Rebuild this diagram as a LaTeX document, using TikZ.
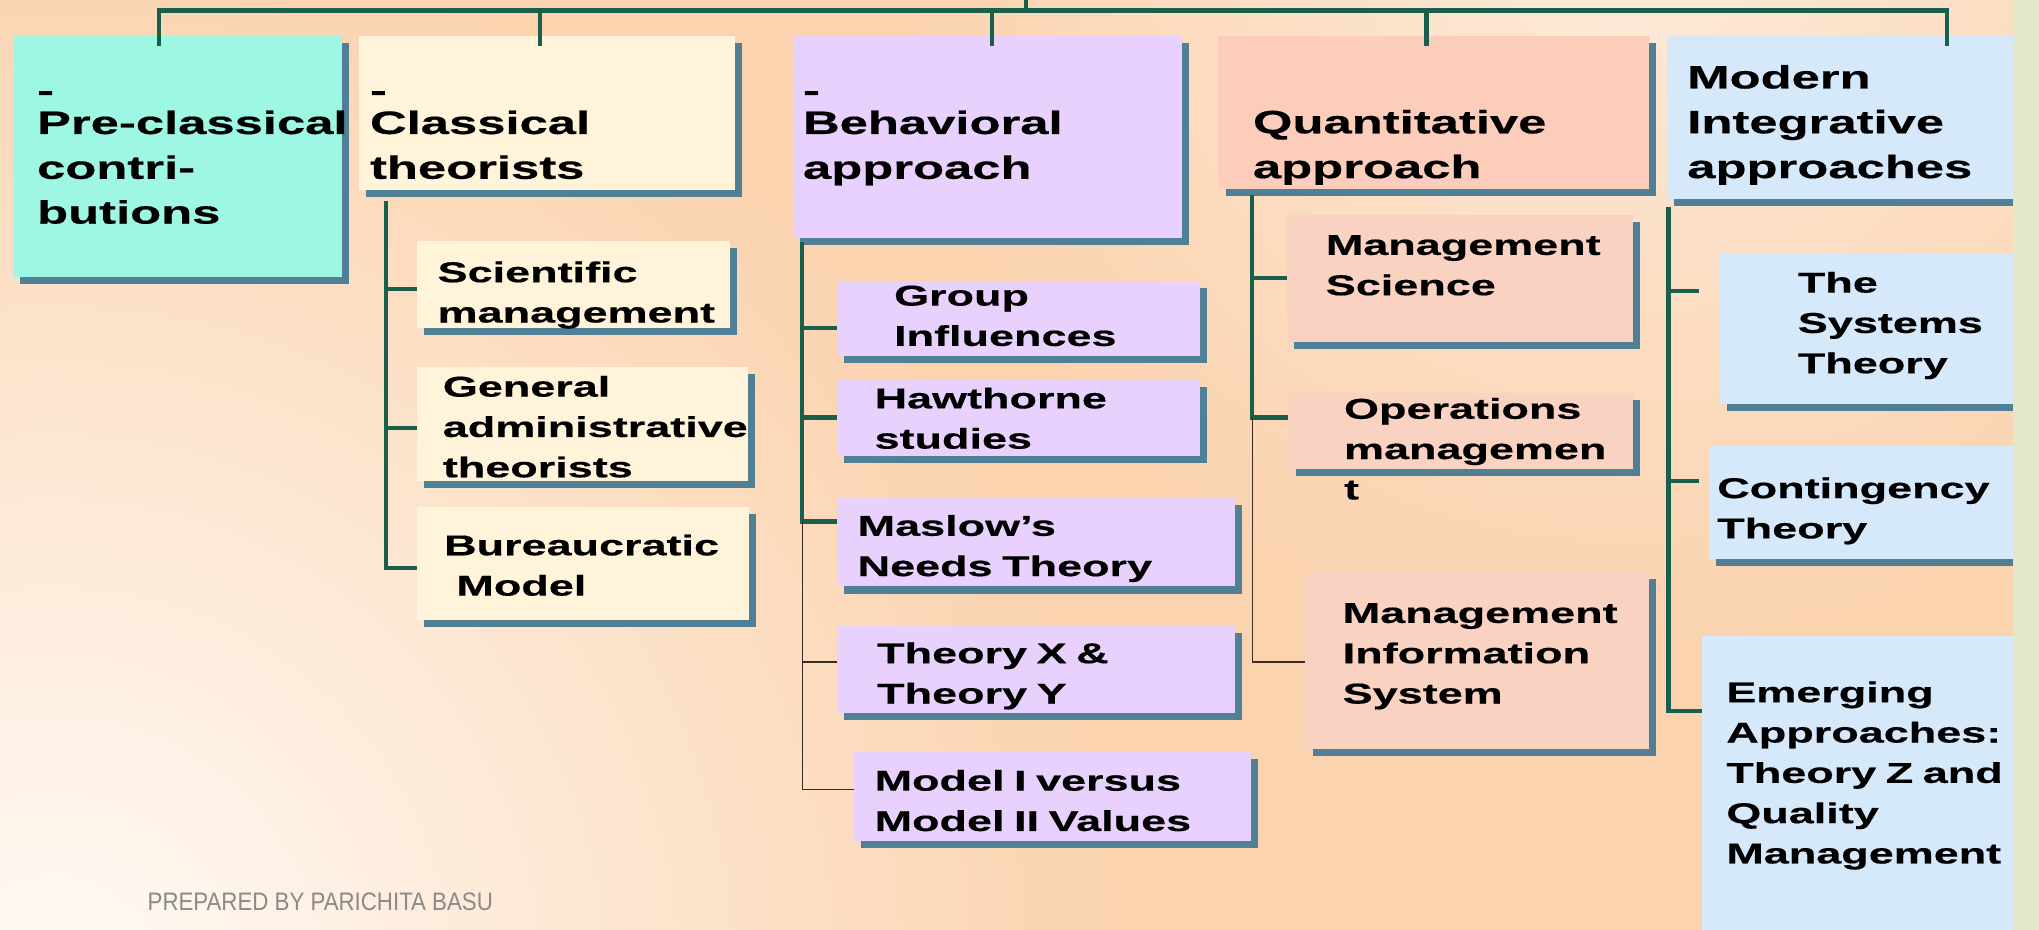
\documentclass[tikz,border=0pt]{standalone}
\usepackage{fontspec}
\setmainfont{Liberation Sans}
\newfontfamily\chartfont{Liberation Sans Bold}[FakeStretch=1.57, FakeBold=0.5]
\newfontfamily\creditfont{Liberation Sans}[FakeStretch=0.88]
\usetikzlibrary{fit,shadows}

\definecolor{peach}{RGB}{251,211,175}
\definecolor{paper}{RGB}{255,251,247}
\definecolor{glowtop}{RGB}{253,234,218}
\definecolor{aquabox}{RGB}{158,247,226}
\definecolor{creambox}{RGB}{255,243,218}
\definecolor{lilacbox}{RGB}{232,210,253}
\definecolor{salmonbox}{RGB}{251,205,186}
\definecolor{salmonsub}{RGB}{250,210,193}
\definecolor{skybox}{RGB}{213,233,250}
\definecolor{shadowblue}{RGB}{80,128,150}
\definecolor{linegreen}{RGB}{25,95,75}
\definecolor{thinline}{RGB}{60,45,35}
\definecolor{sidebar}{RGB}{226,232,200}
\definecolor{creditgray}{RGB}{138,138,138}

\tikzset{
  box/.style={inner sep=0pt, drop shadow={shadow xshift=2pt, shadow yshift=-2pt, fill=shadowblue, opacity=1}},
  head/.style={anchor=base west, inner sep=0pt, text width=130pt, align=left,
    font=\chartfont\fontsize{9.2}{12.75}\selectfont},
  item/.style={anchor=base west, inner sep=0pt, text width=110pt, align=left,
    font=\chartfont\fontsize{8.15}{11.47}\selectfont},
  trunk/.style={draw=linegreen, line width=1.2pt},
  twig/.style={draw=thinline, line width=0.45pt},
}

\begin{document}
\begin{tikzpicture}[x=0.37pt, y=-0.37pt]
    \useasboundingbox (0,0) rectangle (1568,714.4);
    % background
    \fill[peach] (-10,-10) rectangle (1580,730);
    \begin{scope}
        \clip (-10,-10) rectangle (1580,730);
        \shade[inner color=glowtop, outer color=peach] (1250,-60) circle (560);
        \shade[inner color=paper, outer color=peach] (40,760) circle (820);
    \end{scope}

    % main branches
    \node[box, fill=aquabox, fit={(10,28) (263,213)}] (pre) {};
    \node[box, fill=creambox, fit={(276,28) (565,146)}] (cls) {};
    \node[box, fill=lilacbox, fit={(610,28) (909,183)}] (beh) {};
    \node[box, fill=salmonbox, fit={(937,28) (1268,145)}] (qnt) {};
    \node[box, fill=skybox, fit={(1282,28) (1566,153)}] (mod) {};

    % sub boxes
    \node[box, fill=creambox, fit={(321,185) (561,252)}] (sci) {};
    \node[box, fill=creambox, fit={(321,282) (575,370)}] (gen) {};
    \node[box, fill=creambox, fit={(321,390) (576,477)}] (bur) {};
    \node[box, fill=lilacbox, fit={(644,216) (923,274)}] (grp) {};
    \node[box, fill=lilacbox, fit={(644,292) (923,351)}] (haw) {};
    \node[box, fill=lilacbox, fit={(644,383) (950,451)}] (mas) {};
    \node[box, fill=lilacbox, fit={(644,481) (950,548)}] (thx) {};
    \node[box, fill=lilacbox, fit={(657,578) (962,647)}] (mdl) {};
    \node[box, fill=salmonsub, fit={(990,165) (1256,263)}] (msc) {};
    \node[box, fill=salmonsub, fit={(991,302) (1256,361)}] (ops) {};
    \node[box, fill=salmonsub, fit={(1004,440) (1268,576)}] (mis) {};
    \node[box, fill=skybox, fit={(1323,195) (1566,311)}] (sys) {};
    \node[box, fill=skybox, fit={(1314,343) (1566,430)}] (con) {};
    \node[box, fill=skybox, fit={(1309,489) (1566,730)}] (emg) {};

    % top bar
    \coordinate (hub) at (789,8);
    \draw[trunk] ([yshift=-3pt]pre.north -| 122,0) |- (hub) -| ([yshift=-3pt]mod.north -| 1497,0);
    \draw[trunk] (hub) -- (789,-5);
    \foreach \b/\x in {cls/415, beh/763, qnt/1097}
        \draw[trunk] ([yshift=-3pt]\b.north -| \x,0) -- (\x,8);

    % classical
    \draw[trunk] ([yshift=-3pt]cls.south -| 297,0) |- (bur.west |- 0,437);
    \foreach \n/\y in {sci/222, gen/329}
        \draw[trunk] (\n.west |- 0,\y) -- (297,\y);

    % behavioral
    \draw[trunk] ([yshift=-1pt]beh.south -| 617,0) |- (mas.west |- 0,401);
    \foreach \n/\y in {grp/252, haw/321}
        \draw[trunk] (\n.west |- 0,\y) -- (617,\y);
    \draw[twig] (617,401) |- (mdl.west |- 0,607);
    \draw[twig] (thx.west |- 0,509) -- (617,509);

    % quantitative
    \draw[trunk] ([yshift=-1.5pt]qnt.south -| 963,0) |- (ops.west |- 0,321);
    \draw[trunk] (msc.west) -- (963,214);
    \draw[twig] (963,321) |- (mis.west |- 0,509);

    % modern
    \draw[trunk] ([yshift=-2pt]mod.south -| 1283,0) |- (emg.west |- 0,547);
    \draw[trunk] ([xshift=-6pt]sys.west |- 0,224) -- (1283,224);
    \draw[trunk] ([xshift=-2.5pt]con.west |- 0,370) -- (1283,370);

    % labels
    \node[head] (pre-l) at (28,78) {-\\[-3.5pt]Pre-classical\\contri-\\butions};
    \node[head] (cls-l) at (284,78) {-\\[-3.5pt]Classical\\theorists};
    \node[head] (beh-l) at (617,78) {-\\[-3.5pt]Behavioral\\approach};
    \node[head] (qnt-l) at (963,102.5) {Quantitative\\approach};
    \node[head] (mod-l) at (1297,68) {Modern\\Integrative\\approaches};

    \node[item] (sci-l) at (336,217) {Scientific\\management};
    \node[item] (gen-l) at (340,305) {General\\administrative\\theorists};
    \node[item] (bur-l) at (341,427) {Bureaucratic\\\hspace*{3.5pt}Model};
    \node[item] (grp-l) at (687,235) {Group\\Influences};
    \node[item] (haw-l) at (672,314) {Hawthorne\\studies};
    \node[item] (mas-l) at (659,412) {Maslow’s\\Needs Theory};
    \node[item] (thx-l) at (674,510) {Theory X \&\\Theory Y};
    \node[item] (mdl-l) at (672,608) {Model I versus\\Model II Values};
    \node[item] (msc-l) at (1019,196) {Management\\Science};
    \node[item] (ops-l) at (1033,322) {Operations\\managemen\\t};
    \node[item] (mis-l) at (1032,479) {Management\\Information\\System};
    \node[item] (sys-l) at (1382,225) {The\\Systems\\Theory};
    \node[item] (con-l) at (1320,383) {Contingency\\Theory};
    \node[item] (emg-l) at (1327,540) {Emerging\\Approaches:\\Theory Z and\\Quality\\Management};

    % side strip and credit
    \fill[sidebar] (1548,-10) rectangle (1580,730);
    \node[anchor=base west, inner sep=0pt, text=creditgray, font=\creditfont\fontsize{7.2}{9}\selectfont] (credit) at (113,700) {PREPARED BY PARICHITA BASU};
\end{tikzpicture}
\end{document}
